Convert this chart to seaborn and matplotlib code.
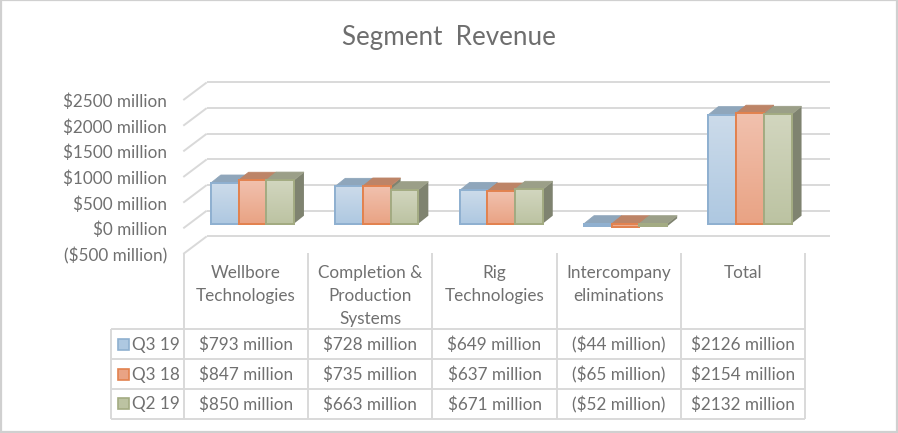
import numpy as np
import pandas as pd
import matplotlib
matplotlib.use("Agg")
import matplotlib.pyplot as plt
from matplotlib.patches import Polygon, Rectangle
import seaborn as sns

categories = ["Wellbore\nTechnologies", "Completion &\nProduction\nSystems", "Rig\nTechnologies",
              "Intercompany\neliminations", "Total"]
series_names = ["Q3 19", "Q3 18", "Q2 19"]
q3_19 = [793, 728, 649, -44, 2126]
q3_18 = [847, 735, 637, -65, 2154]
q2_19 = [850, 663, 671, -52, 2132]
y_ticks = [-500, 0, 500, 1000, 1500, 2000, 2500]
y_tick_labels = ["($500 million)", "$0 million", "$500 million", "$1000 million",
                 "$1500 million", "$2000 million", "$2500 million"]
table_rows = [
    ["$793 million", "$728 million", "$649 million", "($44 million)", "$2126 million"],
    ["$847 million", "$735 million", "$637 million", "($65 million)", "$2154 million"],
    ["$850 million", "$663 million", "$671 million", "($52 million)", "$2132 million"],
]

front_top = ["#CCDBEA", "#F1C1AE", "#D2D6BF"]
front_bot = ["#AEC8E1", "#E9A384", "#BCC3A2"]
edge = ["#8FB0D0", "#E2824F", "#A3AB82"]
top_face = ["#8FA6BB", "#BD8467", "#9B9F88"]
SIDE = "#7F8370"
TEXT = "#707070"
LINE = "#D9D9D9"

sns.set_theme(style="white")
plt.rcParams["font.family"] = ["Lato", "DejaVu Sans"]

W, H = 898, 433
PX_PER_CAT, PX_PER_VAL = 124.4, 0.0513
X0, Y0 = 252.4, 223.7
def X(px): return (px - X0) / PX_PER_CAT
def Y(py): return (Y0 - py) / PX_PER_VAL

fig = plt.figure(figsize=(W / 100, H / 100), dpi=100)
ax = fig.add_axes([0, 0, 1, 1])

df = pd.DataFrame({
    "category": categories * 3,
    "series": np.repeat(series_names, len(categories)),
    "value": q3_19 + q3_18 + q2_19,
})
sns.barplot(data=df, x="category", y="value", hue="series", hue_order=series_names,
            order=categories, width=0.668, gap=0, dodge=True, errorbar=None,
            legend=False, ax=ax, zorder=5)
ax.set_xlim(X(0), X(W))
ax.set_ylim(Y(H), Y(0))
ax.set_xlabel(""); ax.set_ylabel(""); ax.set_xticks([]); ax.set_yticks([])
for s in ax.spines.values():
    s.set_visible(False)

def seg(x1, y1, x2, y2, lw=1.4, c=LINE, z=1):
    ax.plot([X(x1), X(x2)], [Y(y1), Y(y2)], color=c, lw=lw, zorder=z, solid_capstyle="butt")

BACK_DY = 13.0      # bar plane -> back wall
FRONT_DY = 4.6      # bar plane -> front plane
for t, lab in zip(y_ticks, y_tick_labels):
    yb = Y0 - t * PX_PER_VAL
    seg(206.7, yb - BACK_DY, 830, yb - BACK_DY)
    seg(206.7, yb - BACK_DY, 183.3, yb + FRONT_DY)
    ax.text(X(167), Y(yb + FRONT_DY + 1.8), lab, ha="right", va="center", color=TEXT, fontsize=12.3, zorder=8)

# 3-D faces and gradient fronts, from the bars seaborn drew
DX, DY = 10.0, 8.0
bars = list(ax.patches)
n = len(categories)
for i in range(n):
    for j in range(3):
        b = bars[j * n + i]
        x, w, y, h = b.get_x(), b.get_width(), b.get_y(), b.get_height()
        top = max(y, y + h); bot = min(y, y + h)
        ddx, ddy = DX / PX_PER_CAT, DY / PX_PER_VAL
        z = 3 + i * 0.1 + j * 0.02
        ax.add_patch(Polygon([(x + w, bot), (x + w + ddx, bot + ddy), (x + w + ddx, top + ddy), (x + w, top)],
                             fc=SIDE, ec="none", zorder=z))
        ax.add_patch(Polygon([(x, top), (x + ddx, top + ddy), (x + w + ddx, top + ddy), (x + w, top)],
                             fc=top_face[j], ec=top_face[j], lw=0.6, zorder=z + 0.001))
        b.set_zorder(z + 0.002)
        b.set_facecolor(front_bot[j]); b.set_edgecolor(edge[j]); b.set_linewidth(1.4)
        c0 = np.array(matplotlib.colors.to_rgb(front_top[j])); c1 = np.array(matplotlib.colors.to_rgb(front_bot[j]))
        grad = np.linspace(0, 1, 64)[:, None, None] * (c1 - c0) + c0
        ax.imshow(grad, extent=(x, x + w, bot, top), origin="upper", aspect="auto",
                  zorder=z + 0.003, interpolation="bilinear")
        ax.add_patch(Rectangle((x, bot), w, top - bot, fc="none", ec=edge[j], lw=1.4, zorder=z + 0.004))
ax.set_xlim(X(0), X(W))
ax.set_ylim(Y(H), Y(0))

# data table
col_x = [184 + 124.2 * k for k in range(6)]
row_y = [329.3, 359.2, 389, 418.7]
for x in col_x:
    seg(x, 253, x, 418.7, z=2)
seg(111, 329.3, 111, 418.7, z=2)
for r, y in enumerate(row_y):
    seg(111, y, 805, y, z=2)

for i, cat in enumerate(categories):
    cx = (col_x[i] + col_x[i + 1]) / 2
    for k, line in enumerate(cat.split("\n")):
        ax.text(X(cx), Y(273.3 + 23 * k), line, ha="center", va="center", color=TEXT, fontsize=12.3)

for r, (name, vals) in enumerate(zip(series_names, table_rows)):
    yc = (row_y[r] + row_y[r + 1]) / 2
    ax.add_patch(Rectangle((X(117.5), Y(yc + 5.6)), 11.5 / PX_PER_CAT, 11.2 / PX_PER_VAL,
                           fc=front_bot[r], ec=edge[r], lw=1.2, zorder=6))
    ax.text(X(156), Y(yc + 0.6), name, ha="center", va="center", color=TEXT, fontsize=12.3)
    for i, v in enumerate(vals):
        ax.text(X((col_x[i] + col_x[i + 1]) / 2), Y(yc + 0.6), v, ha="center", va="center", color=TEXT, fontsize=12.3)

ax.text(X(449), Y(37.3), "Segment  Revenue", ha="center", va="center", color="#6E6E6E", fontsize=18.7)

# chart border
ax.add_patch(Rectangle((X(0.5), Y(431.8)), (W - 1.5) / PX_PER_CAT, 431.3 / PX_PER_VAL,
                       fc="none", ec="#D0D0D0", lw=1.6, zorder=9, clip_on=False))

fig.savefig("out.png", dpi=100)
